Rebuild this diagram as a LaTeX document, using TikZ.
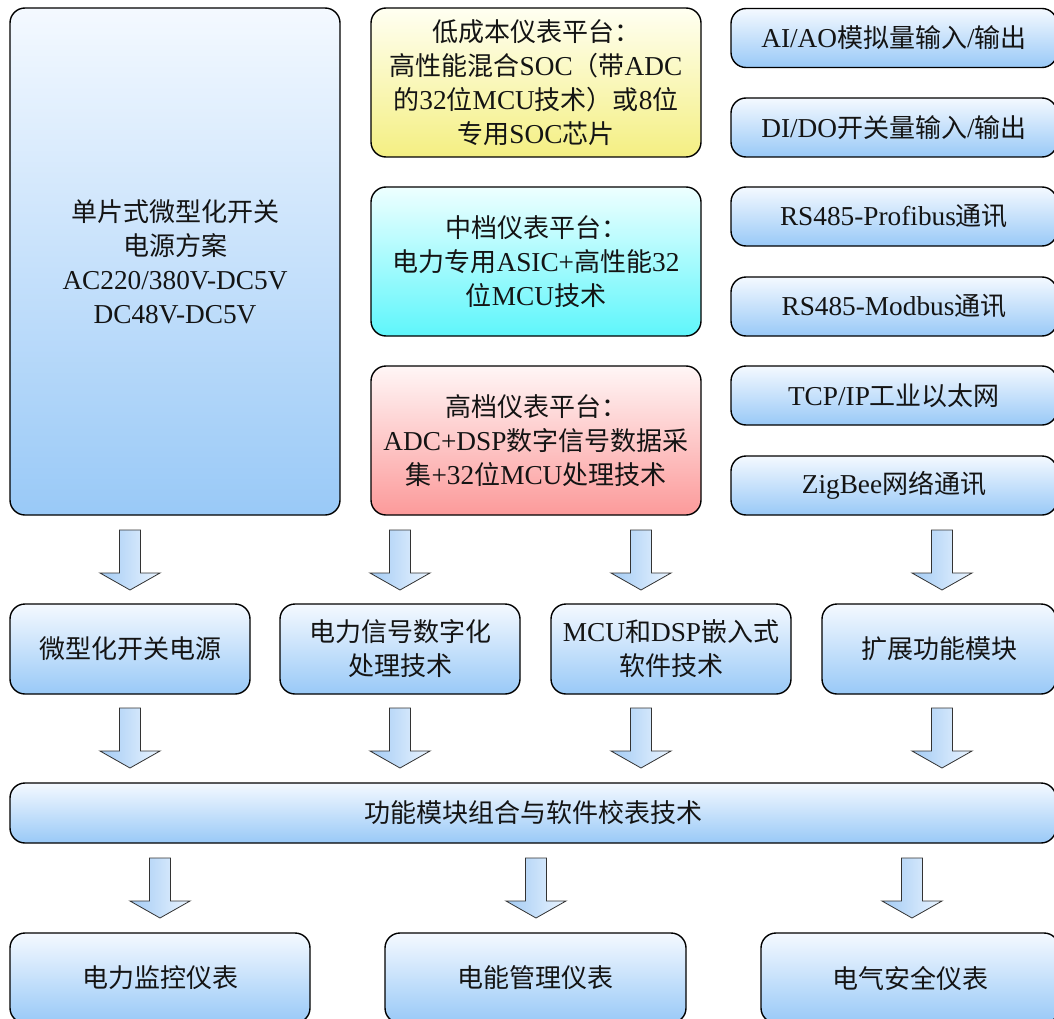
\documentclass[tikz,border=0pt]{standalone}
\usepackage{fontspec}
\setmainfont{Liberation Serif}[Scale=1.05]
\newfontfamily\cjk{Noto Sans CJK SC}
\newcommand{\zh}[1]{{\cjk #1}}
\definecolor{btop}{HTML}{F4F9FF}
\definecolor{bbot}{HTML}{99C9F7}
\definecolor{ytop}{HTML}{FFFFF2}
\definecolor{ybot}{HTML}{F4EF82}
\definecolor{ctop}{HTML}{EEFFFF}
\definecolor{cbot}{HTML}{5EF6FB}
\definecolor{rtop}{HTML}{FFF6F6}
\definecolor{rbot}{HTML}{FC9A9A}
\definecolor{aleft}{HTML}{A3CBF4}
\definecolor{aright}{HTML}{EAF4FF}
\tikzset{
  box/.style={draw=black, line width=1.4pt, rounded corners=15pt, align=center,
    inner sep=0pt, outer sep=0pt, font=\fontsize{26}{34}\selectfont, text=black!92,
    top color=btop, bottom color=bbot},
  yel/.style={top color=ytop, bottom color=ybot},
  cya/.style={top color=ctop, bottom color=cbot},
  red/.style={top color=rtop, bottom color=rbot},
  barrow/.style={draw=black!80, line width=0.8pt, left color=aleft, right color=aright},
}
\newcommand{\blockarrow}[2]{%
  \path[barrow] (#1-10.5,#2) -- (#1+10.5,#2) -- (#1+10.5,#2+43) -- (#1+30,#2+43)
    -- (#1,#2+60) -- (#1-30,#2+43) -- (#1-10.5,#2+43) -- cycle;}
\begin{document}
\begin{tikzpicture}[x=1pt,y=-1pt]
\useasboundingbox (0,0) rectangle (1054,1019);
\clip (0,0) rectangle (1054,1019);
% left big box
\node[box, minimum width=330pt, minimum height=507pt] (L) at (175,261.5)
  {\zh{单片式微型化开关}\\\zh{电源方案}\\AC220/380V-DC5V\\DC48V-DC5V};
% middle column
\node[box, yel, minimum width=330pt, minimum height=149pt] (Y) at (536,82.5)
  {\zh{低成本仪表平台：}\\\zh{高性能混合}SOC\zh{（带}ADC\\\zh{的}32\zh{位}MCU\zh{技术）或}8\zh{位}\\\zh{专用}SOC\zh{芯片}};
\node[box, cya, minimum width=330pt, minimum height=149pt] (C) at (536,261.5)
  {\zh{中档仪表平台：}\\\zh{电力专用}ASIC+\zh{高性能}32\\\zh{位}MCU\zh{技术}};
\node[box, red, minimum width=330pt, minimum height=149pt] (R) at (536,440.5)
  {\zh{高档仪表平台：}\\ADC+DSP\zh{数字信号数据采}\\\zh{集}+32\zh{位}MCU\zh{处理技术}};
% right column
\node[box, minimum width=326pt, minimum height=59pt] (r1) at (894,38) {AI/AO\zh{模拟量输入}/\zh{输出}};
\node[box, minimum width=326pt, minimum height=59pt] (r2) at (894,127.5) {DI/DO\zh{开关量输入}/\zh{输出}};
\node[box, minimum width=326pt, minimum height=59pt] (r3) at (894,216.5) {RS485-Profibus\zh{通讯}};
\node[box, minimum width=326pt, minimum height=59pt] (r4) at (894,306.5) {RS485-Modbus\zh{通讯}};
\node[box, minimum width=326pt, minimum height=59pt] (r5) at (894,395.5) {TCP/IP\zh{工业以太网}};
\node[box, minimum width=326pt, minimum height=59pt] (r6) at (894,485.5) {ZigBee\zh{网络通讯}};
% second row
\node[box, minimum width=240pt, minimum height=90pt] (m1) at (130,649) {\zh{微型化开关电源}};
\node[box, minimum width=240pt, minimum height=90pt] (m2) at (400,649) {\zh{电力信号数字化}\\\zh{处理技术}};
\node[box, minimum width=240pt, minimum height=90pt] (m3) at (671,649) {MCU\zh{和}DSP\zh{嵌入式}\\\zh{软件技术}};
\node[box, minimum width=234pt, minimum height=90pt] (m4) at (939,649) {\zh{扩展功能模块}};
% bar
\node[box, minimum width=1046pt, minimum height=60pt] (bar) at (533,813) {\zh{功能模块组合与软件校表技术}};
% bottom row
\node[box, minimum width=300pt, minimum height=90pt] (b1) at (160,978) {\zh{电力监控仪表}};
\node[box, minimum width=301pt, minimum height=90pt] (b2) at (535.5,978) {\zh{电能管理仪表}};
\node[box, minimum width=298pt, minimum height=90pt] (b3) at (910,978) {\zh{电气安全仪表}};
% block arrows
\blockarrow{130}{530}\blockarrow{400}{530}\blockarrow{641}{530}\blockarrow{942}{530}
\blockarrow{130}{708}\blockarrow{400}{708}\blockarrow{641}{708}\blockarrow{942}{708}
\blockarrow{160}{858}\blockarrow{536}{858}\blockarrow{912}{858}
\end{tikzpicture}
\end{document}
